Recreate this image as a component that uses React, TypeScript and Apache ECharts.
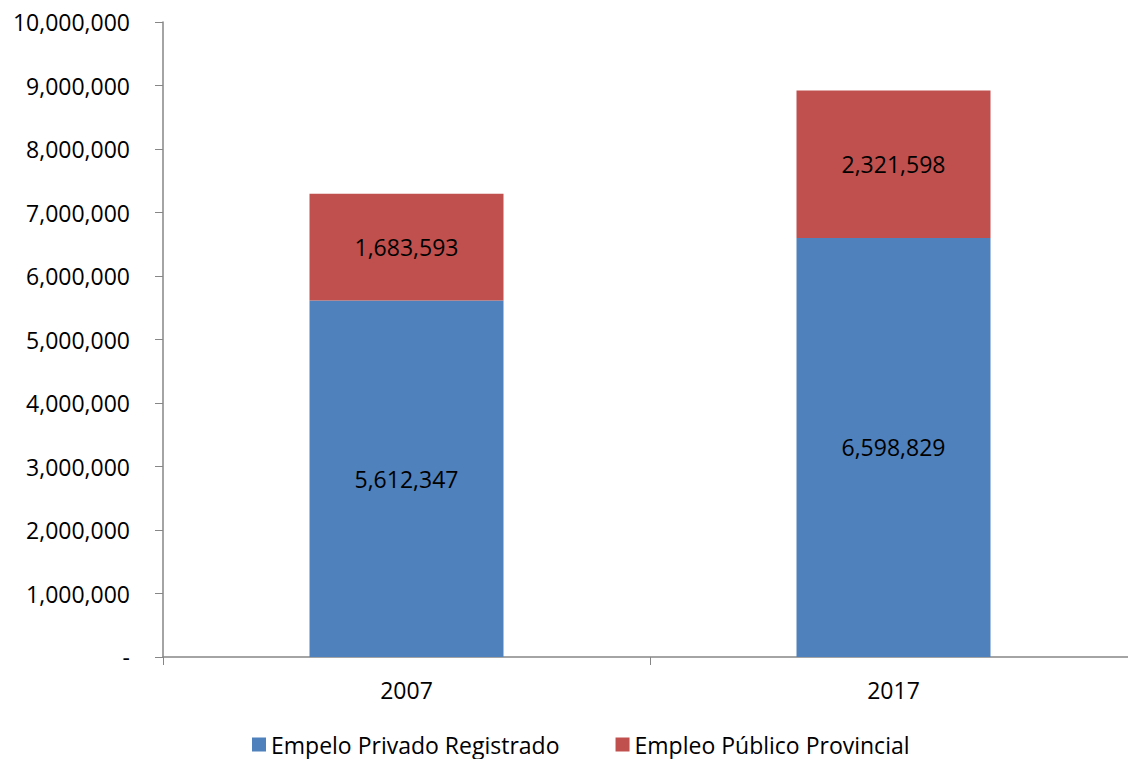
import React, { useEffect, useRef } from "react";
import * as echarts from "echarts";

const categories = ["2007", "2017"];
const privado = [5612347, 6598829];
const publico = [1683593, 2321598];
const seriesNames = ["Empelo Privado Registrado", "Empleo Público Provincial"];

const FONT = "'Open Sans', 'Noto Sans', sans-serif";
const fmt = (v: number) => (v === 0 ? "-" : Math.round(v).toLocaleString("en-US"));

export default function App() {
  const ref = useRef<HTMLDivElement>(null);
  useEffect(() => {
    if (!ref.current) return;
    const chart = echarts.init(ref.current, undefined, { renderer: "svg" });
    chart.setOption({
      animation: false,
      backgroundColor: "#ffffff",
      textStyle: { fontFamily: FONT },
      grid: { left: 163, right: 3, top: 22, bottom: 102, containLabel: false },
      legend: {
        data: seriesNames,
        left: 247,
        top: 728,
        itemWidth: 14,
        itemHeight: 14,
        itemGap: 56,
        icon: "rect",
        textStyle: { fontFamily: FONT, fontSize: 23, color: "#000" },
      },
      xAxis: {
        type: "category",
        data: categories,
        axisLine: { lineStyle: { color: "#868686", width: 1.5 } },
        axisTick: { show: true, length: 8, lineStyle: { color: "#868686" } },
        axisLabel: { fontFamily: FONT, fontSize: 23, color: "#000", margin: 21 },
      },
      yAxis: {
        type: "value",
        min: 0,
        max: 10000000,
        interval: 1000000,
        splitLine: { show: false },
        axisLine: { show: true, lineStyle: { color: "#868686", width: 1.5 } },
        axisTick: { show: true, length: 8, lineStyle: { color: "#868686" } },
        axisLabel: {
          fontFamily: FONT,
          fontSize: 23,
          color: "#000",
          margin: 33,
          formatter: (v: number) => fmt(v),
        },
      },
      series: [
        {
          name: seriesNames[0],
          type: "bar",
          stack: "total",
          data: privado,
          barWidth: 194,
          itemStyle: { color: "#4F81BD" },
          label: {
            show: true,
            position: "inside",
            fontFamily: FONT,
            fontSize: 23,
            color: "#000",
            formatter: (p: any) => fmt(p.value),
          },
        },
        {
          name: seriesNames[1],
          type: "bar",
          stack: "total",
          data: publico,
          barWidth: 194,
          itemStyle: { color: "#C0504D" },
          label: {
            show: true,
            position: "inside",
            fontFamily: FONT,
            fontSize: 23,
            color: "#000",
            formatter: (p: any) => fmt(p.value),
          },
        },
      ],
    });
    return () => chart.dispose();
  }, []);
  return (
    <div style={{ width: 1128, height: 759, position: "absolute", left: 0, top: 0, overflow: "hidden", background: "#fff" }}>
      <div ref={ref} style={{ width: 1140, height: 759, position: "absolute", left: 0, top: 0 }} />
    </div>
  );
}
